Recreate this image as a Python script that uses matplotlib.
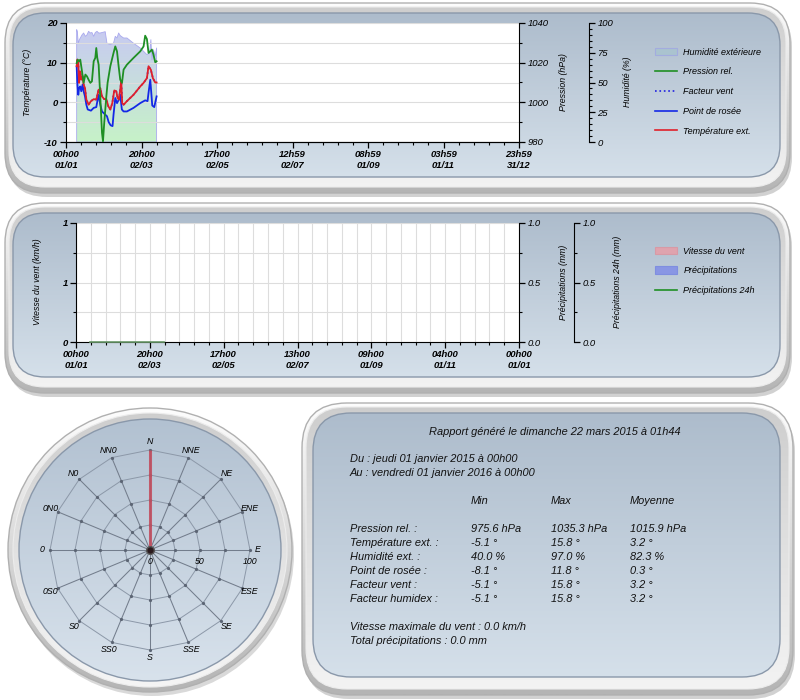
import numpy as np
import matplotlib.pyplot as plt
from matplotlib.patches import FancyBboxPatch, Circle, Patch
from matplotlib.lines import Line2D
from matplotlib.colors import LinearSegmentedColormap

plt.rcParams['font.family'] = ['Liberation Sans', 'DejaVu Sans']
plt.rcParams['font.style'] = 'italic'
plt.rcParams['font.size'] = 7

W, H = 800, 700

# --- data (days since 01/01/2015) ---
temp_days = [8.6, 9.1, 9.9, 10.5, 11.5, 12.3, 13.4, 14.2, 15.3, 16.4, 18.2, 20.1, 22.3, 24.4,
             26.3, 27.1, 27.6, 29.0, 30.8, 32.5, 34.1, 35.7, 37.3, 38.9, 40.5, 41.6, 42.6,
             43.7, 44.5, 45.3, 46.4, 49.1, 54.4, 59.8, 62.5, 65.2, 66.5, 68.4, 70.0, 71.9, 73.0]
temp_vals = [9.1, 10.8, 10.3, 4.9, 7.8, 5.7, 6.6, 4.5, 3.6, 0.7, -0.6, 0.3, 0.8, 0.7,
             3.2, 2.4, 3.6, 1.5, 0.8, 0.8, -1.0, -1.8, -0.2, 3.0, 2.8, 1.1, 0.7,
             3.2, 5.5, -0.2, -0.6, 0.3, 1.9, 4.0, 4.9, 6.1, 9.1, 8.2, 6.1, 5.0, 5.0]

dew_days = [8.6, 9.1, 9.9, 10.5, 11.5, 12.3, 13.4, 14.2, 15.3, 16.4, 17.5, 20.1, 22.3, 24.4,
            25.5, 26.3, 27.6, 29.0, 31.6, 33.0, 34.4, 36.0, 37.5, 38.3, 39.7, 41.1, 42.6,
            43.7, 45.0, 46.4, 49.1, 54.4, 59.8, 63.8, 65.7, 66.5, 67.9, 69.5, 71.1, 73.0]
dew_vals = [9.0, 5.0, 1.9, 3.5, 4.0, 2.8, 4.5, 2.8, 1.5, -0.6, -1.8, -2.1, -1.4, -1.2,
            0.7, 1.9, -0.6, -2.3, -3.1, -3.5, -5.0, -5.8, -6.0, -3.1, 1.1, -0.2, 0.7,
            1.9, -1.8, -2.3, -2.3, -1.4, -0.2, 0.5, 0.3, 2.4, 5.7, -0.8, -1.2, 1.5]

pres_days = [8.6, 9.4, 10.5, 11.5, 12.9, 14.2, 15.6, 16.9, 18.2, 19.6, 20.9, 22.3, 23.6, 24.4,
             25.2, 26.3, 27.6, 29.0, 29.8, 30.8, 32.5, 33.5, 35.7, 38.3, 39.7, 41.1, 42.4,
             43.7, 45.1, 46.4, 49.1, 54.4, 59.8, 62.5, 63.8, 65.2, 66.5, 67.9, 69.2, 70.5, 71.9, 73.0]
pres_vals = [1019.8, 1021.5, 1020.7, 1021.5, 1015.6, 1009.8, 1014.0, 1013.1, 1011.4, 1009.8,
             1010.6, 1020.7, 1022.4, 1027.4, 1022.4, 1019.0, 1003.0, 984.6, 980.4, 989.6,
             1003.0, 1009.8, 1018.2, 1024.9, 1028.2, 1025.7, 1018.2, 1011.4, 1009.8, 1016.5,
             1019.0, 1022.4, 1025.7, 1028.2, 1033.6, 1031.9, 1024.9, 1025.7, 1026.6, 1024.0,
             1020.2, 1020.7]

hum_days = [8.6, 9.1, 9.9, 10.8, 12.9, 14.2, 15.6, 16.9, 18.2, 19.6, 20.9, 22.3, 23.6, 25.0,
            26.3, 27.6, 29.0, 31.6, 33.0, 35.7, 38.3, 39.7, 41.1, 42.4, 43.7, 46.4, 49.1,
            54.4, 59.8, 65.2, 67.3, 68.4, 69.2, 70.5, 71.9, 73.0]
hum_vals = [94.4, 93.0, 83.0, 86.0, 90.0, 91.6, 88.8, 90.0, 93.0, 91.6, 92.0, 88.8, 92.0, 93.0,
            91.6, 91.6, 92.0, 92.7, 83.0, 81.8, 83.0, 88.8, 87.4, 91.6, 89.4, 87.4, 87.4,
            83.0, 79.0, 73.4, 74.8, 86.0, 69.0, 77.6, 72.0, 79.0]

rain24_days = [11.5, 72.5]
rain24_vals = [0.0, 0.0]

top_xlabels = ['00h00\n01/01', '20h00\n02/03', '17h00\n02/05', '12h59\n02/07',
               '08h59\n01/09', '03h59\n01/11', '23h59\n31/12']
mid_xlabels = ['00h00\n01/01', '20h00\n02/03', '17h00\n02/05', '13h00\n02/07',
               '09h00\n01/09', '04h00\n01/11', '00h00\n01/01']
wind_ylabels = ['0', '1', '1']
rain_ylabels = ['0.0', '0.5', '1.0']

rose_dirs = ['N', 'NNE', 'NE', 'ENE', 'E', 'ESE', 'SE', 'SSE',
             'S', 'SS0', 'S0', '0S0', '0', '0N0', 'N0', 'NN0']
rose_rings = [25, 50, 75, 100]
rose_rlabels = [0, 50, 100]
rose_wind_dir = 0
rose_wind_val = 100

report_title = 'Rapport généré le dimanche 22 mars 2015 à 01h44'
report_period = ['Du : jeudi 01 janvier 2015 à 00h00', 'Au : vendredi 01 janvier 2016 à 00h00']
stat_cols = ['Min', 'Max', 'Moyenne']
stat_names = ['Pression rel. :', 'Température ext. :', 'Humidité ext. :',
              'Point de rosée :', 'Facteur vent :', 'Facteur humidex :']
stat_min = ['975.6 hPa', '-5.1 °', '40.0 %', '-8.1 °', '-5.1 °', '-5.1 °']
stat_max = ['1035.3 hPa', '15.8 °', '97.0 %', '11.8 °', '15.8 °', '15.8 °']
stat_mean = ['1015.9 hPa', '3.2 °', '82.3 %', '0.3 °', '3.2 °', '3.2 °']
report_footer = ['Vitesse maximale du vent : 0.0 km/h', 'Total précipitations : 0.0 mm']

fig = plt.figure(figsize=(8, 7), dpi=100)
fig.patch.set_facecolor('white')
bg = fig.add_axes([0, 0, 1, 1])
bg.axis('off')


def frac(l, t, r, b):
    return [l / W, 1 - b / H, (r - l) / W, (b - t) / H]


def shade(patch, top, bottom, y0, y1, z):
    patch.set_zorder(z + 0.2)
    bg.add_patch(patch)
    cmap = LinearSegmentedColormap.from_list('g', [top, bottom])
    im = bg.imshow(np.linspace(0, 1, 256)[:, None], cmap=cmap, extent=[0, W, y1, y0],
                   aspect='auto', origin='upper', zorder=z, interpolation='bilinear')
    im.set_clip_path(patch)


def box(x, y, w, h, r, **kw):
    return FancyBboxPatch((x, y), w, h, boxstyle=f'round,pad=0,rounding_size={r}', **kw)


def panel(x0, y0, x1, y1, ix0, iy0, ix1, iy1, r, ir):
    bg.add_patch(box(x0 + 2, y0 + 4, x1 - x0, y1 - y0, r, fc='black', ec='none', alpha=0.18, zorder=1))
    shade(box(x0, y0, x1 - x0, y1 - y0, r, fc='none', ec='#b0b0b0', lw=1),
          '#fdfdfd', '#b4b4b4', y0, y1, 2)
    shade(box(x0 + 4, y0 + 4, x1 - x0 - 8, y1 - y0 - 10, r - 4, fc='none', ec='#ececec', lw=0.8),
          '#cdcdcd', '#f4f4f4', y0, y1, 3)
    shade(box(ix0, iy0, ix1 - ix0, iy1 - iy0, ir, fc='none', ec='#8a98aa', lw=1),
          '#adbccc', '#d5e0ea', iy0, iy1, 4)


panel(5, 3, 790, 193, 13, 13, 780, 177, 40, 32)
panel(5, 203, 790, 393, 13, 213, 780, 377, 40, 32)
panel(302, 403, 793, 695, 313, 413, 780, 677, 45, 38)

# gauge disc
bg.add_patch(Circle((152, 554), 142, fc='black', alpha=0.15, zorder=1))
shade(Circle((150, 550), 142, fc='none', ec='#b0b0b0', lw=1), '#fdfdfd', '#b4b4b4', 408, 692, 2)
shade(Circle((150, 550), 137, fc='none', ec='#ececec', lw=0.8), '#cdcdcd', '#f6f6f6', 408, 692, 3)
shade(Circle((150, 550), 131, fc='none', ec='#8a98aa', lw=1), '#b2c1d1', '#d8e2ec', 419, 681, 4)

# ---------- top chart ----------
year_ticks = np.linspace(0, 365, 7)
year_minor = np.linspace(0, 365, 31)
bold = dict(fontweight='bold', fontsize=6.6)

ax_h = fig.add_axes(frac(66, 23, 519, 142))
ax = ax_h.twinx()
ax.yaxis.tick_left()
ax.yaxis.set_label_position('left')
ax_p = ax_h.twinx()
for a, z in ((ax_h, 1), (ax, 2), (ax_p, 3)):
    a.set_zorder(z)
ax_h.set_facecolor('white')
ax.patch.set_visible(False)
ax_p.patch.set_visible(False)

poly = ax_h.fill_between(hum_days, 0, hum_vals, fc='none', ec='#a9a9ee', lw=0.6, zorder=2)
hum_cmap = LinearSegmentedColormap.from_list('hum', ['#c6f2c8', '#c8c8f4'])
im = ax_h.imshow(np.linspace(0, 1, 256)[:, None], cmap=hum_cmap, extent=[0, 365, 0, 100],
                 aspect='auto', origin='lower', zorder=1)
im.set_clip_path(poly.get_paths()[0], transform=ax_h.transData)
ax_h.set_ylim(0, 100)
ax_h.set_yticks([0, 25, 50, 75, 100])
ax_h.set_yticks(np.arange(0, 101, 5), minor=True)
ax_h.yaxis.tick_right()
ax_h.spines['right'].set_position(('axes', (589 - 66) / 453))
for s in ('left', 'top', 'bottom'):
    ax_h.spines[s].set_visible(False)

ax.plot(temp_days, temp_vals, color='#2020e0', lw=1.2, ls=':', zorder=3)
ax.plot(dew_days, dew_vals, color='#1428e6', lw=1.3, zorder=4)
ax.plot(temp_days, temp_vals, color='#e0202a', lw=1.3, zorder=5)
ax.set_ylim(-10, 20)
ax.set_yticks([-10, 0, 10, 20])
ax.set_yticks([-5, 5, 15], minor=True)
ax.set_yticklabels(['-10', '0', '10', '20'], **bold)
ax.grid(which='both', color='#dddddd', lw=0.8)
ax_h.set_xticks(year_ticks)
ax_h.set_xticks(year_minor, minor=True)
ax_h.set_xticklabels(top_xlabels, **bold)
ax_h.set_xlim(0, 365)
ax.set_xlim(0, 365)
ax.xaxis.set_ticks(year_ticks)
ax.xaxis.set_ticks(year_minor, minor=True)
ax.tick_params(axis='x', which='both', length=0, labelbottom=False)
ax.spines['top'].set_visible(False)
ax.spines['right'].set_visible(False)
ax_h.spines['bottom'].set_visible(True)

ax_p.plot(pres_days, pres_vals, color='#1f8f24', lw=1.3, zorder=3)
ax_p.set_ylim(980, 1040)
ax_p.set_yticks([980, 1000, 1020, 1040])
ax_p.set_yticks([990, 1010, 1030], minor=True)
for s in ('left', 'top', 'bottom'):
    ax_p.spines[s].set_visible(False)

for a in (ax, ax_p, ax_h):
    a.tick_params(which='major', direction='out', length=4, width=0.9, labelsize=6.8, pad=2)
    a.tick_params(which='minor', direction='out', length=2, width=0.8)

lbl = dict(rotation=90, ha='center', va='center', fontsize=6.3, zorder=10)
bg.text(28, 82, 'Température (°C)', **lbl)
bg.text(563, 82, 'Pression (hPa)', **lbl)
bg.text(627, 82, 'Humidité (%)', **lbl)

top_handles = [Patch(fc='#aac3cf', ec='#a3acdf', lw=0.8),
               Line2D([], [], color='#1f8f24', lw=1.2),
               Line2D([], [], color='#2020e0', lw=1.2, ls=':'),
               Line2D([], [], color='#1428e6', lw=1.2),
               Line2D([], [], color='#e0202a', lw=1.2)]
top_labels = ['Humidité extérieure', 'Pression rel.', 'Facteur vent', 'Point de rosée',
              'Température ext.']
leg_kw = dict(loc='upper left', frameon=False, borderpad=0, handlelength=2.5, handleheight=0.95,
              handletextpad=0.7, labelspacing=1.2, fontsize=6.5)
fig.legend(top_handles, top_labels, bbox_to_anchor=(650 / W, 1 - 43 / H), **leg_kw)

# ---------- wind / rain chart ----------
ax2 = fig.add_axes(frac(76, 223, 519, 342))
ax2.set_facecolor('white')
ax2.set_xlim(0, 365)
ax2.set_ylim(0, 1)
ax2.set_xticks(year_ticks)
ax2.set_xticks(year_minor, minor=True)
ax2.set_xticklabels(mid_xlabels, **bold)
ax2.set_yticks([0, 0.5, 1])
ax2.set_yticks([0.25, 0.75], minor=True)
ax2.set_yticklabels(wind_ylabels, **bold)
ax2.grid(which='both', color='#dddddd', lw=0.8)
ax2.spines['top'].set_visible(False)
ax2.spines['right'].set_visible(False)

ax2_p = ax2.twinx()
ax2_p.set_ylim(0, 1)
ax2_p.set_yticks([0, 0.5, 1])
ax2_p.set_yticks([0.25, 0.75], minor=True)
ax2_p.set_yticklabels(rain_ylabels)
ax2_q = ax2.twinx()
ax2_q.spines['right'].set_position(('axes', (574 - 76) / 443))
ax2_q.set_ylim(0, 1)
ax2_q.set_yticks([0, 0.5, 1])
ax2_q.set_yticks([0.25, 0.75], minor=True)
ax2_q.set_yticklabels(rain_ylabels)
ax2_q.plot(rain24_days, rain24_vals, color='#6a9a6a', lw=1.2, clip_on=False, zorder=5)
for a in (ax2_p, ax2_q):
    for s in ('left', 'top', 'bottom'):
        a.spines[s].set_visible(False)
for a in (ax2, ax2_p, ax2_q):
    a.tick_params(which='major', direction='out', length=4, width=0.9, labelsize=6.8, pad=2)
    a.tick_params(which='minor', direction='out', length=2, width=0.8)

bg.text(38, 282, 'Vitesse du vent (km/h)', **lbl)
bg.text(563, 282, 'Précipitations (mm)', **lbl)
bg.text(618, 282, 'Précipitations 24h (mm)', **lbl)

mid_handles = [Patch(fc='#dfa3ae', ec='#d79aa6', lw=0.8),
               Patch(fc='#8996e4', ec='#7f8ee0', lw=0.8),
               Line2D([], [], color='#1f8f24', lw=1.2)]
mid_labels = ['Vitesse du vent', 'Précipitations', 'Précipitations 24h']
fig.legend(mid_handles, mid_labels, bbox_to_anchor=(650 / W, 1 - 242 / H), **leg_kw)

# ---------- wind rose ----------
axr = fig.add_axes(frac(35, 435, 265, 665))
axr.set_xlim(-115, 115)
axr.set_ylim(-115, 115)
axr.axis('off')
theta = np.deg2rad(np.arange(len(rose_dirs)) * 360 / len(rose_dirs))
ring_theta = np.append(theta, theta[0])
for rr in rose_rings:
    axr.plot(rr * np.sin(ring_theta), rr * np.cos(ring_theta), color='#8c98a8', lw=0.7)
for th, name in zip(theta, rose_dirs):
    axr.plot([0, rose_rings[-1] * np.sin(th)], [0, rose_rings[-1] * np.cos(th)],
             color='#737d8c', lw=0.75)
    axr.plot(np.array(rose_rings) * np.sin(th), np.array(rose_rings) * np.cos(th),
             ls='none', marker='o', ms=1.3, color='#5c6574')
    axr.text(108 * np.sin(th), 108 * np.cos(th), name, ha='center', va='center', fontsize=6.3)
for rv in rose_rlabels:
    axr.text(rv, -12, str(rv), ha='center', va='center', fontsize=6.3)
wth = theta[rose_wind_dir]
axr.plot([0, rose_wind_val * np.sin(wth)], [0, rose_wind_val * np.cos(wth)],
         color='#c24f60', lw=2.2, alpha=0.9, solid_capstyle='butt')
axr.plot([0], [0], marker='o', ms=5.5, color='#2a1a1e', mec='#555555')

# ---------- report ----------
tk = dict(fontsize=7.9, color='#111111', va='center', zorder=10)
bg.text(555, 432, report_title, ha='center', **tk)
for i, line in enumerate(report_period):
    bg.text(350, 459 + 14 * i, line, **tk)
for x, c in zip([471, 551, 630], stat_cols):
    bg.text(x, 501, c, **tk)
for i in range(len(stat_names)):
    y = 529 + 14 * i
    bg.text(350, y, stat_names[i], **tk)
    bg.text(471, y, stat_min[i], **tk)
    bg.text(551, y, stat_max[i], **tk)
    bg.text(630, y, stat_mean[i], **tk)
for i, line in enumerate(report_footer):
    bg.text(350, 627 + 14 * i, line, **tk)

bg.set_xlim(0, W)
bg.set_ylim(H, 0)
fig.savefig('out.png', dpi=100)
